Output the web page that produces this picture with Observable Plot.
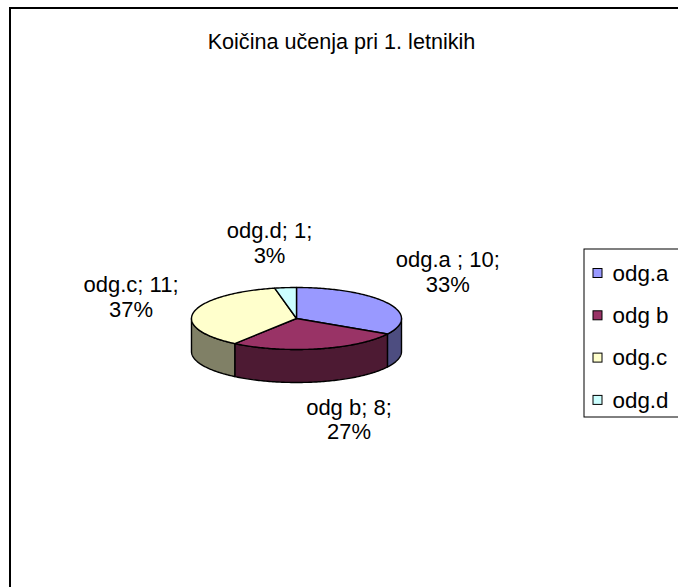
<!DOCTYPE html>
<html><head><meta charset="utf-8">
<script src="https://cdn.jsdelivr.net/npm/d3@7"></script>
<script src="https://cdn.jsdelivr.net/npm/@observablehq/plot@0.6"></script>
<style>html,body{margin:0;padding:0;background:#fff;overflow:hidden}</style>
</head><body><div id="chart"></div>
<script>
const title = "Koičina učenja pri 1. letnikih";
const categories = ["odg.a", "odg b", "odg.c", "odg.d"];
const labelNames = ["odg.a ", "odg b", "odg.c", "odg.d"];
const values = [10, 8, 11, 1];
const percentLabels = ["33%", "27%", "37%", "3%"];
const topColors = ["#9999ff", "#993366", "#ffffcc", "#ccffff"];
const sideColors = ["#4d4d80", "#4d1a33", "#808066", "#668080"];

const W = 678, H = 587;
const cx = 296, cy = 318, rx = 105, ry = 31, depth = 33;
const total = d3.sum(values);
let acc = 0;
const slices = values.map((v, i) => {
  const a0 = acc / total * 360; acc += v; const a1 = acc / total * 360;
  return {i, a0, a1, mid: (a0 + a1) / 2};
});
const rad = d => d * Math.PI / 180;
const px = t => cx + rx * Math.sin(rad(t));
const py = t => cy - ry * Math.cos(rad(t));
function arc(a0, a1) {
  const n = Math.max(2, Math.ceil(Math.abs(a1 - a0)));
  return d3.range(n + 1).map(k => a0 + (a1 - a0) * k / n);
}

const polys = [];
slices.forEach(s => {
  const t0 = Math.max(s.a0, 90), t1 = Math.min(s.a1, 270);
  if (t1 <= t0) return;
  const key = "w" + s.i;
  const top = arc(t0, t1).map(t => [px(t), py(t)]);
  const bot = arc(t1, t0).map(t => [px(t), py(t) + depth]);
  [...top, ...bot, top[0]].forEach(([x, y]) => polys.push({key, x, y, fill: sideColors[s.i]}));
});
slices.forEach(s => {
  const key = "t" + s.i;
  const pts = [[cx, cy], ...arc(s.a0, s.a1).map(t => [px(t), py(t)]), [cx, cy]];
  pts.forEach(([x, y]) => polys.push({key, x, y, fill: topColors[s.i]}));
});

const labels = slices.map(s => {
  const S = Math.sin(rad(s.mid)), C = Math.cos(rad(s.mid));
  const Rx = 169 + 91 * C ** 4, Ry = 76 + 31 * S ** 4;
  return {
    x: cx + Rx * S,
    y: cy - Ry * C + (C < 0 ? depth * 0.8 : 0),
    text: `${labelNames[s.i]}; ${values[s.i]};\n${percentLabels[s.i]}`
  };
});

const legendRows = categories.map((c, i) => ({c, i, color: topColors[i]}));
const legY = i => 273 + 42.3 * i;

const chart = Plot.plot({
  width: W, height: H, margin: 0,
  x: {domain: [0, W], range: [0, W], axis: null},
  y: {domain: [0, H], range: [0, H], axis: null},
  color: {type: "identity"},
  style: {fontFamily: "'Liberation Sans', Arial, sans-serif", background: "white", overflow: "hidden"},
  marks: [
    Plot.rect([0], {x1: 10, x2: W + 20, y1: 8, y2: H + 20, fill: "white", stroke: "black", strokeWidth: 2}),
    Plot.text([title], {x: 341, y: 41.5, text: d => d, fontSize: 21.6, fill: "black"}),
    Plot.line(polys, {x: "x", y: "y", z: "key", fill: "fill", stroke: "black", strokeWidth: 1.4, strokeLinejoin: "round"}),
    Plot.text(labels, {x: "x", y: "y", text: "text", fontSize: 22, lineHeight: 1.12, fill: "black"}),
    Plot.rect([0], {x1: 584, x2: W + 10, y1: 249, y2: 417, fill: "white", stroke: "black", strokeWidth: 1}),
    Plot.rect(legendRows, {x1: () => 593, x2: () => 602, y1: d => legY(d.i) - 4.5, y2: d => legY(d.i) + 4.5, fill: "color", stroke: "black", strokeWidth: 1}),
    Plot.text(legendRows, {x: () => 612, y: d => legY(d.i), text: "c", textAnchor: "start", fontSize: 22.4, fill: "black"})
  ]
});
document.getElementById("chart").appendChild(chart);
</script>
</body></html>
